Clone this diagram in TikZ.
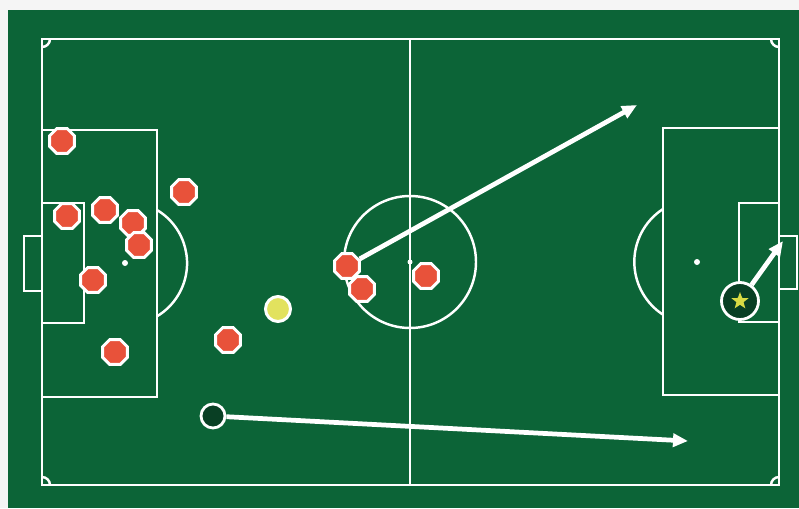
\documentclass[tikz,border=0pt]{standalone}
\usepackage{xcolor}
\usepackage{tikz}
\usetikzlibrary{shapes.geometric, arrows.meta}
\definecolor{pitch}{HTML}{0C6437}
\definecolor{rival}{HTML}{E8523A}
\definecolor{ballyellow}{HTML}{E2E25E}
\definecolor{starfill}{HTML}{D8DA44}
\definecolor{deep}{HTML}{093F24}

\begin{document}
\begin{tikzpicture}[x=0.02cm, y=-0.02cm,
    line/.style={draw=white, line width=1.4pt},
    opp/.style={regular polygon, regular polygon sides=8, minimum size=0.54cm,
      inner sep=0pt, fill=rival, draw=white, line width=1.7pt},
    ballnode/.style={circle, minimum size=0.5cm, inner sep=0pt, fill=ballyellow,
      draw=white, line width=1.7pt},
    runner/.style={circle, minimum size=0.48cm, inner sep=0pt, fill=deep,
      draw=white, line width=1.6pt},
    move/.style={draw=white, line width=2.7pt, -{Triangle[length=0.3cm, width=0.26cm]}}]
          % paper and grass
          \fill[gray!8] (0,0) rectangle (799,508);
          \fill[pitch] (8,10) rectangle (799,508);
          \useasboundingbox (0,0) rectangle (799,508);

          % markings
          \draw[line] (42,39) rectangle (779,485);
          \draw[line] (410,39) -- (410,485);
          \draw[line] (410,262) circle [radius=66];
          \fill[white] (410,262) circle [radius=2.5];
          \draw[line] (42,130) rectangle (157,397);
          \draw[line] (42,203) rectangle (84,323);
          \draw[line] (42,236) -- (24,236) -- (24,291) -- (42,291);
          \fill[white] (125,263) circle [radius=3];
          \draw[line] (157,210) arc [start angle=-59, end angle=59, radius=62];
          \draw[line] (663,128) rectangle (779,395);
          \draw[line] (739,203) rectangle (779,322);
          \draw[line] (779,236) -- (797,236) -- (797,289) -- (779,289);
          \fill[white] (697,262) circle [radius=3];
          \draw[line] (663,209) arc [start angle=237, end angle=123, radius=63];
          \draw[line] (50,39) arc [start angle=0, end angle=90, radius=8];
          \draw[line] (771,39) arc [start angle=180, end angle=90, radius=8];
          \draw[line] (42,477) arc [start angle=-90, end angle=0, radius=8];
          \draw[line] (771,485) arc [start angle=180, end angle=270, radius=8];

          % players
          \node[opp] (p1) at (62,141) {};
          \node[opp] (p2) at (184,192) {};
          \node[opp] (p3) at (67,216) {};
          \node[opp] (p4) at (105,210) {};
          \node[opp] (p5) at (133,223) {};
          \node[opp] (p6) at (139,245) {};
          \node[opp] (p7) at (93,280) {};
          \node[opp] (p8) at (115,352) {};
          \node[opp] (p9) at (228,340) {};
          \node[opp] (p10) at (347,266) {};
          \node[opp] (p11) at (362,289) {};
          \node[opp] (p12) at (426,276) {};
          \node[ballnode] (ball) at (278,309) {};
          \node[runner] (run) at (213,416) {};
          \node[runner, minimum size=0.74cm] (shooter) at (740,301) {};
          \node[star, star points=5, star point ratio=2.4, fill=starfill,
            minimum size=0.36cm, inner sep=0pt] (starmark) at (shooter) {};

          % runs and passes
          \coordinate (passend) at (637,105);
          \coordinate (runend) at (688,441);
          \coordinate (shotend) at (783,241);
          \draw[move] (p10) -- (passend);
          \draw[move] (run) -- (runend);
          \draw[move] (shooter) -- (shotend);
        \end{tikzpicture}
\end{document}
